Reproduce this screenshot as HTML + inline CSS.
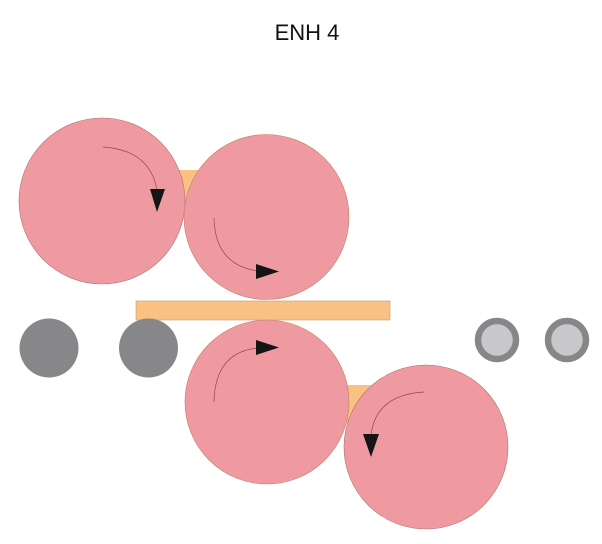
<!DOCTYPE html>
<html><head><style>html,body{margin:0;padding:0;background:#fff;width:602px;height:544px;overflow:hidden}</style></head>
<body>
<svg width="602" height="544" viewBox="0 0 602 544" xmlns="http://www.w3.org/2000/svg">
<text x="307" y="40" text-anchor="middle" font-family="Liberation Sans, sans-serif" font-size="22" fill="#111">ENH 4</text>
<rect x="176" y="170" width="26" height="42" fill="#f9c283"/>
<rect x="346" y="385" width="28" height="38" fill="#f9c283"/>
<circle cx="102" cy="201" r="83" fill="#ef9aa0" stroke="#b07070" stroke-width="0.6"/>
<circle cx="266.5" cy="217" r="82.5" fill="#ef9aa0" stroke="#c08060" stroke-width="0.6"/>
<rect x="136" y="301" width="254" height="19" fill="#f9c283" stroke="#c79a6a" stroke-width="0.6"/>
<circle cx="267" cy="402" r="82" fill="#ef9aa0" stroke="#c08060" stroke-width="0.6"/>
<circle cx="426" cy="447" r="82" fill="#ef9aa0" stroke="#b07070" stroke-width="0.6"/>
<circle cx="49" cy="348" r="29.5" fill="#87878a"/>
<circle cx="148.5" cy="348" r="29.5" fill="#87878a"/>
<circle cx="497" cy="340" r="19" fill="#c8c8ca" stroke="#87878a" stroke-width="6.5"/>
<circle cx="567" cy="340" r="19" fill="#c8c8ca" stroke="#87878a" stroke-width="6.5"/>
<g fill="none" stroke="#8a4a55" stroke-width="0.7">
<path d="M103,147 Q150,150 157,190"/>
<path d="M214,218 Q215,265 258,271"/>
<path d="M214,402 Q215,352 258,348"/>
<path d="M424,392 Q375,395 371,436"/>
</g>
<g fill="#151515">
<polygon points="150,189 165,189 157,212"/>
<polygon points="256,264 256,279 279,271.5"/>
<polygon points="256,340 256,355 279,347.5"/>
<polygon points="363,434 379,434 371,457"/>
</g>
</svg>
</body></html>
